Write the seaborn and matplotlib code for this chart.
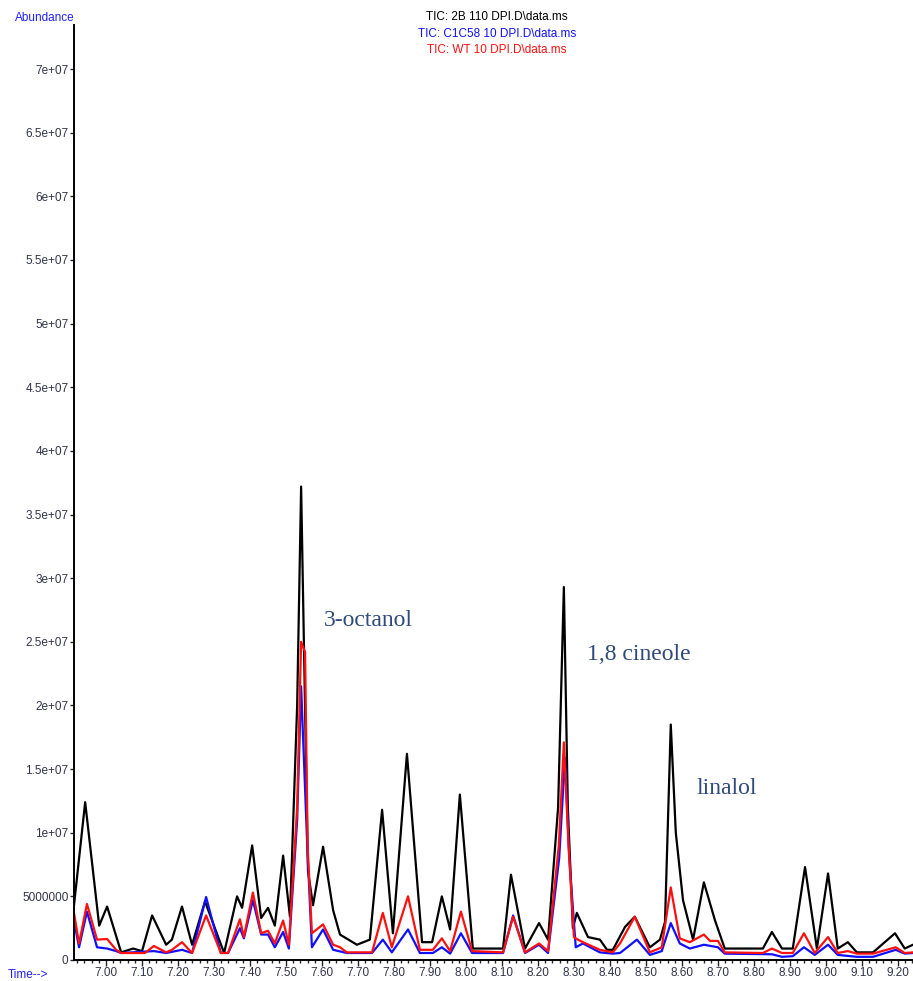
import matplotlib
matplotlib.use("Agg")
import matplotlib.pyplot as plt
import seaborn as sns
import pandas as pd
import numpy as np
from matplotlib.ticker import MultipleLocator

# ---------------- data (abundance in millions) ----------------
SCALE = 1e6

black_t = [6.911, 6.942, 6.981, 7.003, 7.042, 7.075, 7.100, 7.128, 7.167, 7.183, 7.211, 7.239,
           7.275, 7.328, 7.364, 7.378, 7.406, 7.431, 7.450, 7.469, 7.492, 7.511, 7.531, 7.542,
           7.561, 7.575, 7.603, 7.631, 7.650, 7.697, 7.733, 7.767, 7.797, 7.836, 7.878, 7.906,
           7.933, 7.956, 7.983, 8.019, 8.103, 8.125, 8.164, 8.203, 8.228, 8.256, 8.272, 8.283,
           8.297, 8.308, 8.339, 8.372, 8.392, 8.408, 8.442, 8.469, 8.511, 8.539, 8.553, 8.569,
           8.583, 8.603, 8.631, 8.661, 8.692, 8.719, 8.825, 8.850, 8.878, 8.908, 8.942, 8.975,
           9.006, 9.033, 9.061, 9.086, 9.131, 9.192, 9.219, 9.242]
black_v = [4.3, 12.4, 2.7, 4.2, 0.6, 0.9, 0.7, 3.5, 1.2, 1.6, 4.2, 1.2,
           4.6, 0.55, 5.0, 4.1, 9.0, 3.3, 4.1, 2.7, 8.2, 3.4, 20.0, 37.2,
           7.0, 4.3, 8.9, 3.9, 2.0, 1.2, 1.6, 11.8, 2.1, 16.2, 1.4, 1.4,
           5.0, 2.4, 13.0, 0.9, 0.9, 6.7, 0.9, 2.9, 1.6, 12.0, 29.3, 12.0,
           2.5, 3.7, 1.8, 1.6, 0.8, 0.8, 2.6, 3.4, 1.0, 1.6, 3.0, 18.5,
           10.0, 4.7, 1.6, 6.1, 3.1, 0.9, 0.9, 2.2, 0.9, 0.9, 7.3, 0.9,
           6.8, 0.9, 1.4, 0.6, 0.6, 2.1, 0.9, 1.2]

red_t = [6.911, 6.925, 6.947, 6.975, 7.003, 7.028, 7.042, 7.108, 7.133, 7.167, 7.183, 7.211,
         7.239, 7.278, 7.319, 7.339, 7.372, 7.383, 7.408, 7.431, 7.450, 7.469, 7.492, 7.508,
         7.531, 7.542, 7.553, 7.560, 7.572, 7.603, 7.631, 7.650, 7.669, 7.739, 7.769, 7.794,
         7.839, 7.872, 7.908, 7.933, 7.956, 7.986, 8.017, 8.103, 8.131, 8.164, 8.203, 8.228,
         8.258, 8.272, 8.285, 8.300, 8.311, 8.325, 8.372, 8.408, 8.428, 8.469, 8.511, 8.544,
         8.569, 8.594, 8.622, 8.661, 8.678, 8.700, 8.719, 8.825, 8.850, 8.878, 8.908, 8.939,
         8.969, 9.006, 9.033, 9.061, 9.086, 9.131, 9.194, 9.219, 9.242]
red_v = [3.7, 1.3, 4.4, 1.6, 1.65, 0.8, 0.55, 0.55, 1.1, 0.6, 0.8, 1.4,
         0.55, 3.5, 0.55, 0.55, 3.2, 1.8, 5.3, 2.1, 2.3, 1.3, 3.1, 1.2,
         12.0, 25.0, 24.2, 9.0, 2.1, 2.8, 1.2, 1.0, 0.6, 0.6, 3.7, 1.0,
         5.0, 0.8, 0.8, 1.7, 0.7, 3.8, 0.7, 0.6, 3.4, 0.6, 1.3, 0.7,
         9.0, 17.1, 9.0, 1.8, 1.6, 1.4, 0.8, 0.6, 1.3, 3.4, 0.6, 1.0,
         5.7, 1.7, 1.4, 2.0, 1.5, 1.5, 0.6, 0.55, 0.9, 0.55, 0.55, 2.1,
         0.55, 1.8, 0.55, 0.7, 0.5, 0.5, 1.0, 0.55, 0.6]

blue_t = [6.911, 6.925, 6.947, 6.975, 7.003, 7.028, 7.042, 7.133, 7.167, 7.211, 7.239, 7.278,
          7.319, 7.339, 7.372, 7.383, 7.408, 7.431, 7.450, 7.469, 7.492, 7.508, 7.531, 7.542,
          7.559, 7.572, 7.603, 7.631, 7.669, 7.739, 7.769, 7.794, 7.839, 7.872, 7.908, 7.933,
          7.956, 7.986, 8.017, 8.103, 8.131, 8.164, 8.203, 8.228, 8.259, 8.275, 8.287, 8.305,
          8.325, 8.372, 8.408, 8.428, 8.475, 8.511, 8.544, 8.569, 8.594, 8.622, 8.661, 8.700,
          8.719, 8.850, 8.878, 8.908, 8.939, 8.969, 9.006, 9.033, 9.086, 9.131, 9.194, 9.219,
          9.242]
blue_v = [3.1, 1.0, 3.8, 1.0, 0.9, 0.7, 0.55, 0.7, 0.55, 0.8, 0.55, 4.95,
          0.55, 0.55, 2.5, 1.7, 4.7, 2.0, 2.0, 1.0, 2.2, 0.9, 11.0, 21.5,
          9.0, 1.0, 2.4, 0.8, 0.55, 0.55, 1.6, 0.6, 2.4, 0.55, 0.55, 1.0,
          0.5, 2.1, 0.55, 0.55, 3.5, 0.55, 1.2, 0.55, 8.0, 15.9, 8.0, 1.0,
          1.3, 0.6, 0.5, 0.55, 1.6, 0.4, 0.7, 2.9, 1.3, 0.9, 1.2, 1.0,
          0.5, 0.45, 0.25, 0.3, 1.0, 0.4, 1.2, 0.4, 0.25, 0.25, 0.8, 0.5,
          0.55]

series_names = ["TIC: 2B 110 DPI.D\\data.ms", "TIC: C1C58 10 DPI.D\\data.ms", "TIC: WT 10 DPI.D\\data.ms"]
series_colors = ["#000000", "#1010ff", "#ff1010"]

ytick_values = [0, 5e6, 1e7, 1.5e7, 2e7, 2.5e7, 3e7, 3.5e7, 4e7, 4.5e7, 5e7, 5.5e7, 6e7, 6.5e7, 7e7]
ytick_labels = ["0", "5000000", "1e+07", "1.5e+07", "2e+07", "2.5e+07", "3e+07", "3.5e+07",
                "4e+07", "4.5e+07", "5e+07", "5.5e+07", "6e+07", "6.5e+07", "7e+07"]
xtick_values = [7.00, 7.10, 7.20, 7.30, 7.40, 7.50, 7.60, 7.70, 7.80, 7.90, 8.00, 8.10, 8.20,
                8.30, 8.40, 8.50, 8.60, 8.70, 8.80, 8.90, 9.00, 9.10, 9.20]

compound_names = ["3-octanol", "1,8 cineole", "linalol"]
compound_pos = [(7.606, 2.67e7), (8.337, 2.40e7), (8.640, 1.35e7)]

# ---------------- build table ----------------
frames = []
for name, t, v in zip(series_names, [black_t, blue_t, red_t], [black_v, blue_v, red_v]):
    frames.append(pd.DataFrame({"time": t, "abundance": np.array(v) * SCALE, "sample": name}))
df = pd.concat(frames, ignore_index=True)

# ---------------- plot ----------------
sns.set_style("ticks")
plt.rcParams["font.family"] = ["Liberation Sans", "DejaVu Sans"]

fig = plt.figure(figsize=(9.13, 9.81), dpi=100)
ax = fig.add_axes([74 / 913, 21 / 981, (913 - 74) / 913, (960 - 25) / 981])

sns.lineplot(data=df, x="time", y="abundance", hue="sample", hue_order=series_names,
             palette=dict(zip(series_names, series_colors)), estimator=None, sort=True,
             linewidth=1.6, legend=False, ax=ax)

ax.set_xlim(6.911, 9.242)
ax.set_ylim(0, 7.346e7)
ax.set_xlabel("")
ax.set_ylabel("")

ax.set_yticks(ytick_values)
ax.set_yticklabels(ytick_labels)
ax.set_xticks(xtick_values)
ax.set_xticklabels([f"{v:.2f}" for v in xtick_values])
ax.xaxis.set_minor_locator(MultipleLocator(0.02))

tick_color = "#33334a"
ax.tick_params(axis="y", which="major", length=3, width=1, labelsize=8.5, labelcolor=tick_color, pad=1)
ax.tick_params(axis="x", which="major", length=4, width=1, labelsize=8.5, labelcolor=tick_color, pad=1)
ax.tick_params(axis="x", which="minor", length=2, width=1)

for s in ["top", "right"]:
    ax.spines[s].set_visible(False)
for s in ["left", "bottom"]:
    ax.spines[s].set_linewidth(1.4)
    ax.spines[s].set_color("black")

# Titles (stacked, coloured like their traces)
title_y = [17, 34, 50]
for name, col, yp in zip(series_names, series_colors, title_y):
    fig.text(497 / 913, 1 - yp / 981, name, color=col, fontsize=8.5, ha="center", va="center")

fig.text(75 / 913, 1 - 18 / 981, "Abundance", color="#2020ff", fontsize=8.5, ha="right", va="center")
fig.text(8 / 913, 1 - 975 / 981, "Time-->", color="#2020ff", fontsize=8.5, ha="left", va="center")

for name, (xp, yp) in zip(compound_names, compound_pos):
    ax.text(xp, yp, name, color="#2E4A7A", fontsize=17, family=["Liberation Serif", "DejaVu Serif"],
            ha="left", va="center")

fig.savefig("out.png", dpi=100)
